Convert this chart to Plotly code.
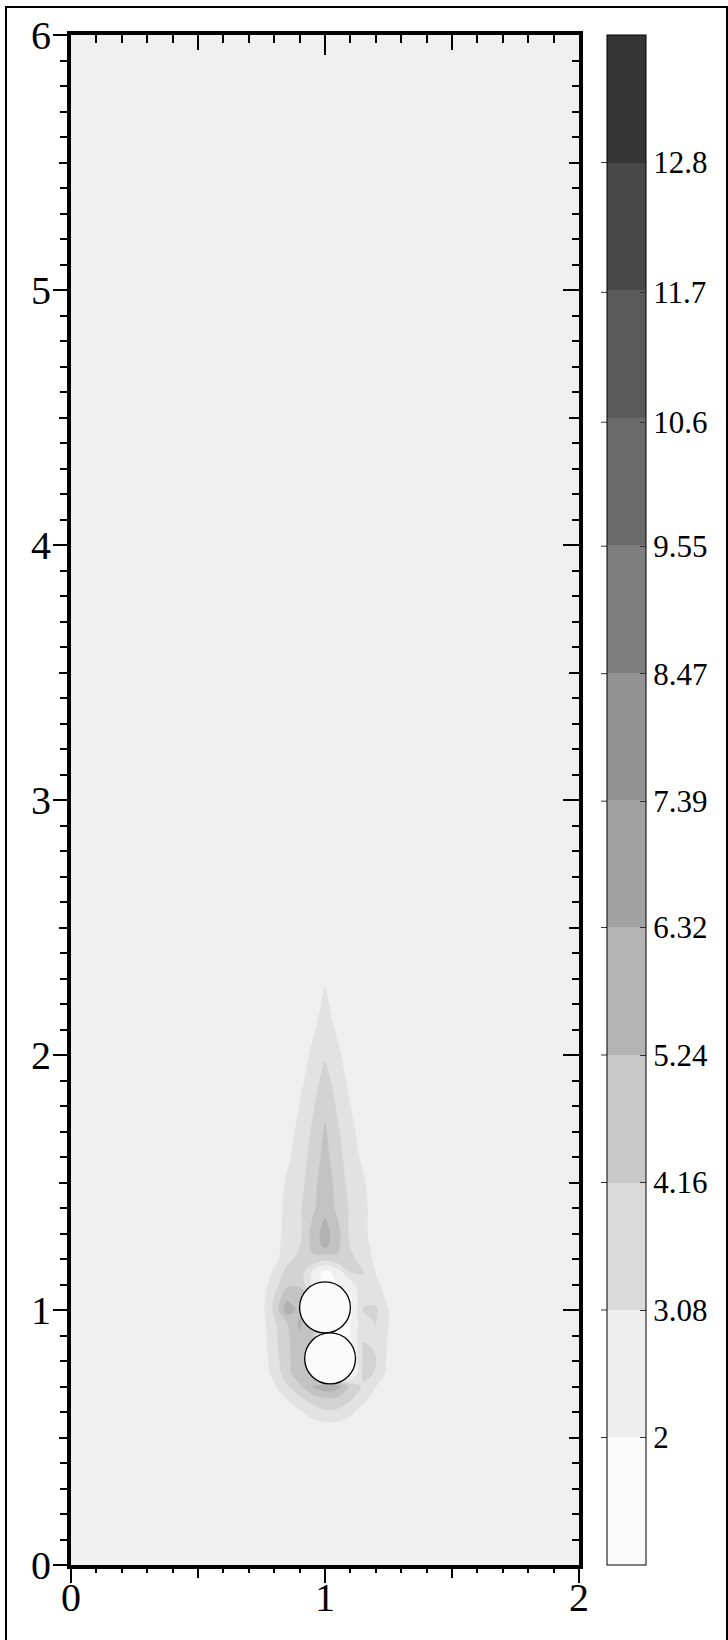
import plotly.graph_objects as go

# ---------------- data ----------------
X_COORDS = [0, 0.7, 0.75, 0.8, 0.85, 0.9, 0.95, 1.0, 1.05, 1.1, 1.15, 1.2, 1.25, 1.3, 2.0]
Y_COORDS = [0, 0.5, 0.55, 0.6, 0.65, 0.7, 0.75, 0.8, 0.85, 0.9, 0.95, 1.0, 1.05, 1.1,
            1.15, 1.2, 1.25, 1.3, 1.4, 1.5, 1.6, 1.7, 1.8, 1.9, 2.0, 2.1, 2.2, 2.3, 2.4, 6.0]

# field values, one row per Y_COORDS entry, one column per X_COORDS entry
Z_GRID = [
    [2.5, 2.5, 2.5, 2.5, 2.5, 2.5, 2.5, 2.5, 2.5, 2.5, 2.5, 2.5, 2.5, 2.5, 2.5],   # 0.00
    [2.5, 2.5, 2.5, 2.5, 2.5, 2.5, 2.5, 2.5, 2.5, 2.5, 2.5, 2.5, 2.5, 2.5, 2.5],   # 0.50
    [2.5, 2.5, 2.5, 2.5, 2.5, 2.5, 2.6, 2.8, 2.8, 2.6, 2.5, 2.5, 2.5, 2.5, 2.5],   # 0.55
    [2.5, 2.5, 2.5, 2.5, 2.5, 2.9, 3.6, 4.0, 3.9, 3.3, 2.6, 2.5, 2.5, 2.5, 2.5],   # 0.60
    [2.5, 2.5, 2.5, 2.5, 3.1, 3.9, 4.6, 5.0, 4.9, 4.3, 3.4, 2.6, 2.5, 2.5, 2.5],   # 0.65
    [2.5, 2.5, 2.5, 2.9, 4.0, 5.0, 6.3, 7.2, 6.8, 5.0, 4.0, 3.1, 2.6, 2.5, 2.5],   # 0.70
    [2.5, 2.5, 2.5, 3.4, 4.8, 6.0, 5.5, 1.5, 1.5, 1.6, 4.4, 4.1, 2.7, 2.5, 2.5],   # 0.75
    [2.5, 2.5, 2.5, 3.6, 5.0, 5.8, 5.0, 1.5, 1.5, 1.5, 4.3, 4.2, 2.8, 2.5, 2.5],   # 0.80
    [2.5, 2.5, 2.5, 3.8, 5.0, 6.0, 5.0, 1.5, 1.5, 1.5, 4.3, 4.1, 2.9, 2.5, 2.5],   # 0.85
    [2.5, 2.5, 2.55, 3.9, 5.0, 6.2, 5.5, 1.5, 1.5, 2.0, 4.0, 4.1, 3.0, 2.5, 2.5],  # 0.90
    [2.5, 2.5, 2.6, 4.0, 5.2, 6.5, 5.5, 1.5, 1.5, 1.9, 3.8, 4.2, 3.1, 2.5, 2.5],   # 0.95
    [2.5, 2.5, 2.7, 4.4, 7.0, 6.0, 5.5, 1.5, 1.5, 1.8, 4.2, 4.3, 3.1, 2.5, 2.5],   # 1.00
    [2.5, 2.5, 2.6, 4.2, 6.0, 6.0, 5.0, 1.5, 1.5, 1.8, 4.0, 3.9, 2.7, 2.5, 2.5],   # 1.05
    [2.5, 2.5, 2.5, 3.7, 5.0, 5.0, 3.0, 1.5, 2.0, 2.5, 4.0, 3.4, 2.5, 2.5, 2.5],   # 1.10
    [2.5, 2.5, 2.5, 3.2, 4.5, 4.8, 3.0, 1.6, 2.5, 4.3, 4.2, 3.0, 2.5, 2.5, 2.5],   # 1.15
    [2.5, 2.5, 2.5, 2.7, 3.8, 4.5, 5.0, 4.5, 5.0, 4.4, 3.8, 2.8, 2.5, 2.5, 2.5],   # 1.20
    [2.5, 2.5, 2.5, 2.6, 3.6, 4.1, 5.5, 6.6, 5.5, 4.1, 3.6, 2.6, 2.5, 2.5, 2.5],   # 1.25
    [2.5, 2.5, 2.5, 2.5, 3.5, 3.9, 5.6, 6.8, 5.6, 3.9, 3.4, 2.5, 2.5, 2.5, 2.5],   # 1.30
    [2.5, 2.5, 2.5, 2.5, 3.4, 4.0, 5.0, 6.0, 5.0, 4.0, 3.4, 2.5, 2.5, 2.5, 2.5],   # 1.40
    [2.5, 2.5, 2.5, 2.5, 3.2, 3.7, 4.9, 5.8, 4.9, 3.7, 3.2, 2.5, 2.5, 2.5, 2.5],   # 1.50
    [2.5, 2.5, 2.5, 2.5, 2.9, 3.5, 4.6, 5.6, 4.6, 3.5, 2.9, 2.5, 2.5, 2.5, 2.5],   # 1.60
    [2.5, 2.5, 2.5, 2.5, 2.6, 3.4, 4.3, 5.4, 4.3, 3.4, 2.6, 2.5, 2.5, 2.5, 2.5],   # 1.70
    [2.5, 2.5, 2.5, 2.5, 2.5, 3.1, 4.0, 5.0, 4.0, 3.1, 2.5, 2.5, 2.5, 2.5, 2.5],   # 1.80
    [2.5, 2.5, 2.5, 2.5, 2.5, 2.8, 3.6, 4.6, 3.6, 2.8, 2.5, 2.5, 2.5, 2.5, 2.5],   # 1.90
    [2.5, 2.5, 2.5, 2.5, 2.5, 2.5, 3.3, 4.0, 3.3, 2.5, 2.5, 2.5, 2.5, 2.5, 2.5],   # 2.00
    [2.5, 2.5, 2.5, 2.5, 2.5, 2.5, 2.9, 3.6, 2.9, 2.5, 2.5, 2.5, 2.5, 2.5, 2.5],   # 2.10
    [2.5, 2.5, 2.5, 2.5, 2.5, 2.5, 2.6, 3.3, 2.6, 2.5, 2.5, 2.5, 2.5, 2.5, 2.5],   # 2.20
    [2.5, 2.5, 2.5, 2.5, 2.5, 2.5, 2.5, 3.0, 2.5, 2.5, 2.5, 2.5, 2.5, 2.5, 2.5],   # 2.30
    [2.5, 2.5, 2.5, 2.5, 2.5, 2.5, 2.5, 2.5, 2.5, 2.5, 2.5, 2.5, 2.5, 2.5, 2.5],   # 2.40
    [2.5, 2.5, 2.5, 2.5, 2.5, 2.5, 2.5, 2.5, 2.5, 2.5, 2.5, 2.5, 2.5, 2.5, 2.5],   # 6.00
]

LEVELS = [2, 3.08, 4.16, 5.24, 6.32, 7.39, 8.47, 9.55, 10.6, 11.7, 12.8]
LEVEL_LABELS = ["2", "3.08", "4.16", "5.24", "6.32", "7.39", "8.47", "9.55", "10.6", "11.7", "12.8"]
# colours of the colour-bar bands (lowest first)
BAND_COLORS = ["#fafafa", "#eeeeee", "#dadada", "#c8c8c8", "#b4b4b4", "#a2a2a2",
               "#929292", "#7e7e7e", "#6b6b6b", "#5a5a5a", "#484848", "#353535"]
# same bands as they appear (slightly lighter) inside the plot area
PLOT_BAND_COLORS = ["#fbfbfb", "#efefef", "#e2e2e2", "#d3d3d3", "#c3c3c3", "#b2b2b2",
                    "#a3a3a3", "#929292", "#808080", "#6f6f6f", "#5e5e5e", "#4c4c4c"]

CIRCLE_CENTERS = [(1.0, 1.01), (1.02, 0.81)]
CIRCLE_RADIUS = 0.1

X_TICKS = [0, 1, 2]
X_HALF_TICKS = [0.5, 1.5]
Y_TICKS = [0, 1, 2, 3, 4, 5, 6]
Y_HALF_TICKS = [0.5, 1.5, 2.5, 3.5, 4.5, 5.5]
X_RANGE = [0, 2]
Y_RANGE = [0, 6]

# ---------------- derived ----------------
n_lev = len(LEVELS)
step = (LEVELS[-1] - LEVELS[0]) / (n_lev - 1)
z_lo = LEVELS[0] - step
z_hi = LEVELS[-1] + step
z_max_data = max(max(r) for r in Z_GRID)

# stepped scale for colour bar
nb = len(BAND_COLORS)
bar_scale = []
for k, c in enumerate(BAND_COLORS):
    bar_scale.append([k / nb, c])
    bar_scale.append([(k + 1) / nb, c])

FONT = "Liberation Serif, Times New Roman, serif"

fig = go.Figure()

# filled bands: plotly shades the region that violates the constraint,
# so "< level" shades everything above the level; stacked low to high
for k, lv in enumerate(LEVELS):
    if lv >= z_max_data:
        break
    fig.add_trace(go.Contour(
        x=X_COORDS, y=Y_COORDS, z=Z_GRID,
        contours=dict(type="constraint", operation="<", value=lv, showlines=False),
        fillcolor=PLOT_BAND_COLORS[k + 1],
        line=dict(width=0, smoothing=1.0, color=PLOT_BAND_COLORS[k + 1]),
        showscale=False,
        hoverinfo="skip",
    ))

# colour bar
fig.add_trace(go.Heatmap(
    x=[10, 11], y=[10], z=[[z_lo, z_hi]],
    zmin=z_lo, zmax=z_hi,
    colorscale=bar_scale,
    showscale=True,
    hoverinfo="skip",
    colorbar=dict(
        x=1.055, xanchor="left", xpad=0,
        y=0.5, yanchor="middle", ypad=0,
        len=1.0, lenmode="fraction",
        thickness=39,
        outlinewidth=1, outlinecolor="black",
        tickmode="array", tickvals=LEVELS, ticktext=LEVEL_LABELS,
        ticks="inside", ticklen=6, tickwidth=1, tickcolor="#333333",
        tickfont=dict(family=FONT, size=31, color="black"),
    ),
))

for xa, ya in (("x2", "y2"), ("x3", "y3"), ("x4", "y4"), ("x5", "y5")):
    fig.add_trace(go.Scatter(x=[None], y=[None], xaxis=xa, yaxis=ya,
                             mode="markers", showlegend=False, hoverinfo="skip"))

tickfont = dict(family=FONT, size=40, color="black")
common = dict(showgrid=False, zeroline=False, fixedrange=True, automargin=False)

fig.update_layout(
    width=728, height=1640,
    margin=dict(l=71, r=149, t=35, b=75, pad=0, autoexpand=False),
    paper_bgcolor="white",
    plot_bgcolor=PLOT_BAND_COLORS[0],
    showlegend=False,
    # labelled bottom axis (hidden ticks so labels sit close to the axis)
    xaxis=dict(range=X_RANGE, domain=[0, 1], anchor="y", side="bottom",
               showline=True, linecolor="black", linewidth=4, mirror=True,
               ticks="inside", tickmode="array", tickvals=X_TICKS,
               ticklen=1, tickwidth=1, tickcolor="rgba(0,0,0,0)", tickfont=tickfont,
               ticklabelstandoff=-6,
               **common),
    # visible bottom ticks
    xaxis5=dict(range=X_RANGE, overlaying="x", anchor="y", side="bottom",
                showline=False, ticks="outside", tickmode="array", tickvals=X_TICKS,
                ticklen=17, tickwidth=2, tickcolor="black", showticklabels=False,
                minor=dict(tickmode="linear", tick0=0, dtick=0.1, ticks="outside",
                           ticklen=7, tickwidth=2, tickcolor="black", showgrid=False),
                **common),
    xaxis2=dict(range=X_RANGE, overlaying="x", anchor="y", side="top",
                showline=False, ticks="inside", tickmode="array", tickvals=X_TICKS,
                ticklen=20, tickwidth=2, tickcolor="black", showticklabels=False,
                minor=dict(tickmode="linear", tick0=0, dtick=0.1, ticks="inside",
                           ticklen=8, tickwidth=2, tickcolor="black", showgrid=False),
                **common),
    xaxis3=dict(range=X_RANGE, overlaying="x", anchor="y", side="bottom",
                showline=False, ticks="outside", tickmode="array", tickvals=X_HALF_TICKS,
                ticklen=12, tickwidth=2, tickcolor="black", showticklabels=False, **common),
    xaxis4=dict(range=X_RANGE, overlaying="x", anchor="y", side="top",
                showline=False, ticks="inside", tickmode="array", tickvals=X_HALF_TICKS,
                ticklen=15, tickwidth=2, tickcolor="black", showticklabels=False, **common),
    # labelled left axis (short major ticks so labels sit close to the axis)
    yaxis=dict(range=Y_RANGE, domain=[0, 1], anchor="x", side="left",
               showline=True, linecolor="black", linewidth=4, mirror=True,
               ticks="outside", tickmode="array", tickvals=Y_TICKS,
               ticklen=8, tickwidth=2, tickcolor="black", tickfont=tickfont,
               minor=dict(tickmode="linear", tick0=0, dtick=0.1, ticks="outside",
                          ticklen=7, tickwidth=2, tickcolor="black", showgrid=False),
               **common),
    # long major ticks on the left
    yaxis5=dict(range=Y_RANGE, overlaying="y", anchor="x", side="left",
                showline=False, ticks="outside", tickmode="array", tickvals=Y_TICKS,
                ticklen=17, tickwidth=2, tickcolor="black", showticklabels=False, **common),
    yaxis2=dict(range=Y_RANGE, overlaying="y", anchor="x", side="right",
                showline=False, ticks="inside", tickmode="array", tickvals=Y_TICKS,
                ticklen=16, tickwidth=2, tickcolor="black", showticklabels=False,
                minor=dict(tickmode="linear", tick0=0, dtick=0.1, ticks="inside",
                           ticklen=7, tickwidth=2, tickcolor="black", showgrid=False),
                **common),
    yaxis3=dict(range=Y_RANGE, overlaying="y", anchor="x", side="left",
                showline=False, ticks="outside", tickmode="array", tickvals=Y_HALF_TICKS,
                ticklen=11, tickwidth=2, tickcolor="black", showticklabels=False, **common),
    yaxis4=dict(range=Y_RANGE, overlaying="y", anchor="x", side="right",
                showline=False, ticks="inside", tickmode="array", tickvals=Y_HALF_TICKS,
                ticklen=10, tickwidth=2, tickcolor="black", showticklabels=False, **common),
)

shapes = []
# circles (obstacles)
for cx, cy in CIRCLE_CENTERS:
    shapes.append(dict(type="circle", xref="x", yref="y",
                       x0=cx - CIRCLE_RADIUS, x1=cx + CIRCLE_RADIUS,
                       y0=cy - CIRCLE_RADIUS, y1=cy + CIRCLE_RADIUS,
                       line=dict(color="black", width=1.3),
                       fillcolor=PLOT_BAND_COLORS[0], layer="above"))

# small tick stubs on the left side of the colour bar
plot_w = 728 - 71 - 149
for lv in LEVELS:
    yp = (lv - z_lo) / (z_hi - z_lo)
    shapes.append(dict(type="line", xref="paper", yref="paper",
                       x0=(601 - 71) / plot_w, x1=(607 - 71) / plot_w,
                       y0=yp, y1=yp, line=dict(color="#333333", width=1)))

# outer frame around the whole picture
plot_h = 1640 - 35 - 75
shapes.append(dict(type="rect", xref="paper", yref="paper",
                   x0=(6 - 71) / plot_w, x1=(727 - 71) / plot_w,
                   y0=(1565 - 1660) / plot_h, y1=(1565 - 7) / plot_h,
                   line=dict(color="black", width=2), fillcolor="rgba(0,0,0,0)",
                   layer="above"))

fig.update_layout(shapes=shapes)

fig.write_html("out.html")
